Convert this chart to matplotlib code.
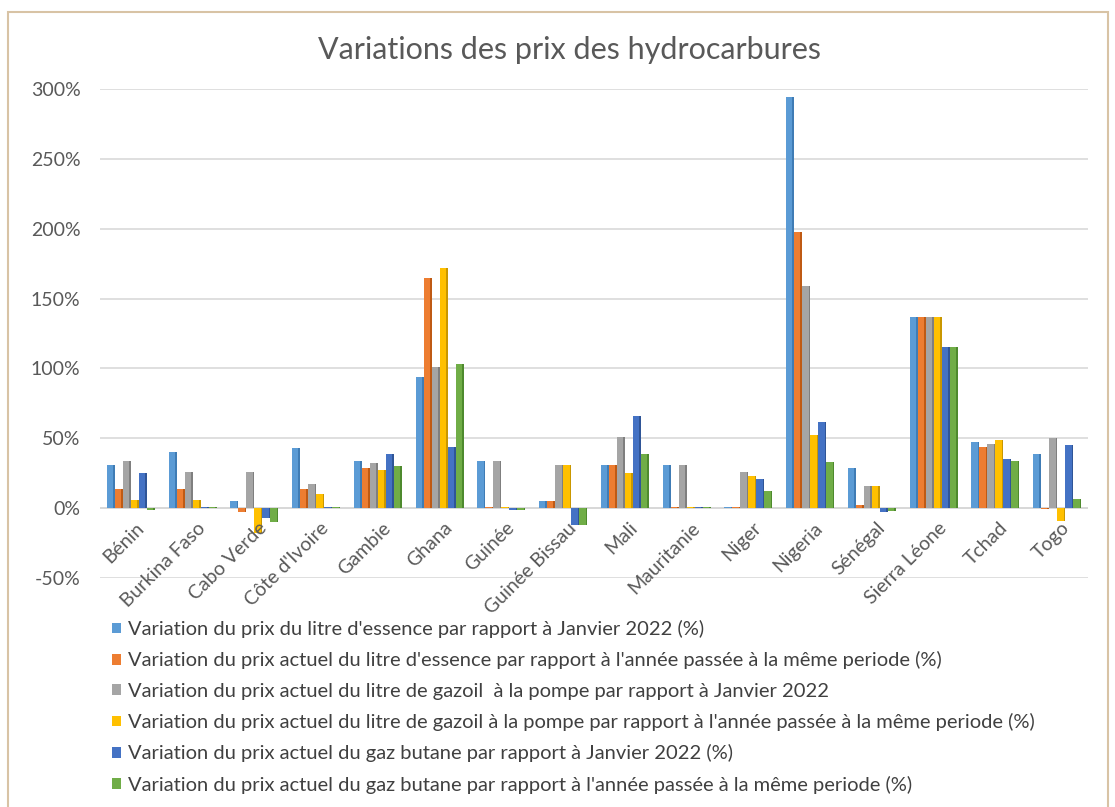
import numpy as np
import matplotlib
matplotlib.use('Agg')
import matplotlib.pyplot as plt
import matplotlib.transforms as mtransforms
from matplotlib.patches import Rectangle
from matplotlib.ticker import FuncFormatter

# ── Data ──────────────────────────────────────────────────────────────────────
countries = ["Bénin", "Burkina Faso", "Cabo Verde", "Côte d'Ivoire", "Gambie", "Ghana",
             "Guinée", "Guinée Bissau", "Mali", "Mauritanie", "Niger", "Nigeria",
             "Sénégal", "Sierra Léone", "Tchad", "Togo"]
essence_jan = [31, 40, 5, 43, 34, 94, 34, 5, 31, 31, 0.5, 294, 29, 137, 47, 39]
essence_an  = [14, 14, -3, 14, 29, 165, 0.5, 5, 31, 0.5, 0.5, 198, 2, 137, 44, -0.5]
gazoil_jan  = [34, 26, 26, 17, 32, 101, 34, 31, 51, 31, 26, 159, 16, 137, 46, 50]
gazoil_an   = [6, 6, -18, 10, 27, 172, 0.5, 31, 25, 0.5, 23, 52, 16, 137, 49, -9]
butane_jan  = [25, 1, -7, 1, 39, 44, -1, -12, 66, 0.5, 21, 62, -3, 115, 35, 45]
butane_an   = [-1, 1, -10, 1, 30, 103, -1, -12, 39, 0.5, 12, 33, -2, 115, 34, 6.5]

series_labels = [
    "Variation du prix du litre d'essence par rapport à Janvier 2022 (%)",
    "Variation du prix actuel du litre d'essence par rapport à l'année passée à la même periode (%)",
    "Variation du prix actuel du litre de gazoil  à la pompe par rapport à Janvier 2022",
    "Variation du prix actuel du litre de gazoil à la pompe par rapport à l'année passée à la même periode (%)",
    "Variation du prix actuel du gaz butane par rapport à Janvier 2022 (%)",
    "Variation du prix actuel du gaz butane par rapport à l'année passée à la même periode (%)",
]
series = [essence_jan, essence_an, gazoil_jan, gazoil_an, butane_jan, butane_an]

colors = ['#5B9BD5', '#ED7D31', '#A5A5A5', '#FFC000', '#4472C4', '#70AD47']
sides  = ['#3F7CB5', '#BF5A14', '#7F7F7F', '#C99700', '#2F5597', '#4E8A2E']

plt.rcParams['font.family'] = ['Lato', 'DejaVu Sans']
txt = '#595959'

fig = plt.figure(figsize=(11.15, 8.07), dpi=100)
fig.patches.append(Rectangle((8/1115, -0.01), 1100/1115, 1 - 12/807 + 0.01,
                             transform=fig.transFigure, fill=False,
                             edgecolor='#D8C3A5', linewidth=1.5))
ax = fig.add_axes([100/1115, 1 - 578/807, 988/1115, 489/807])

x = np.arange(len(countries))
w = 0.13
for i, (vals, c, s) in enumerate(zip(series, colors, sides)):
    pos = x + (i - 2.5) * w
    ax.bar(pos - w * 0.1, vals, w * 0.8, color=c, zorder=3, label=series_labels[i])
    ax.bar(pos + w * 0.4, vals, w * 0.2, color=s, zorder=3)

ax.set_xlim(-0.5, len(countries) - 0.5)
ax.set_ylim(-50, 300)
ax.set_yticks(np.arange(-50, 301, 50))
ax.yaxis.set_major_formatter(FuncFormatter(lambda v, p: f'{v:.0f}%'))
ax.grid(axis='y', color='#D9D9D9', linewidth=1.2, zorder=0)
ax.axhline(0, color='#D0D0D0', linewidth=1.2, zorder=1)
for sp in ax.spines.values():
    sp.set_visible(False)
ax.tick_params(axis='y', length=0, labelsize=14, colors=txt, pad=14)

# category labels hang from the zero line, as in Excel
ax.set_xticks([])
offset = mtransforms.ScaledTranslation(4/100, -11/100, fig.dpi_scale_trans)
for xi, name in zip(x, countries):
    ax.text(xi, 0, name, rotation=45, ha='right', va='top', rotation_mode='anchor',
            fontsize=14, color=txt, transform=ax.transData + offset)

fig.text(0.511, 1 - 50/807, 'Variations des prix des hydrocarbures', ha='center', va='center',
         fontsize=22, color=txt)

handles, labels = ax.get_legend_handles_labels()
fig.legend(handles, labels, loc='upper left', bbox_to_anchor=(104/1115, 1 - 612/807),
           frameon=False, fontsize=14.5, labelcolor='#404040', labelspacing=0.66,
           handlelength=0.45, handleheight=0.45, handletextpad=0.35, borderaxespad=0)

fig.savefig('out.png', dpi=100)
